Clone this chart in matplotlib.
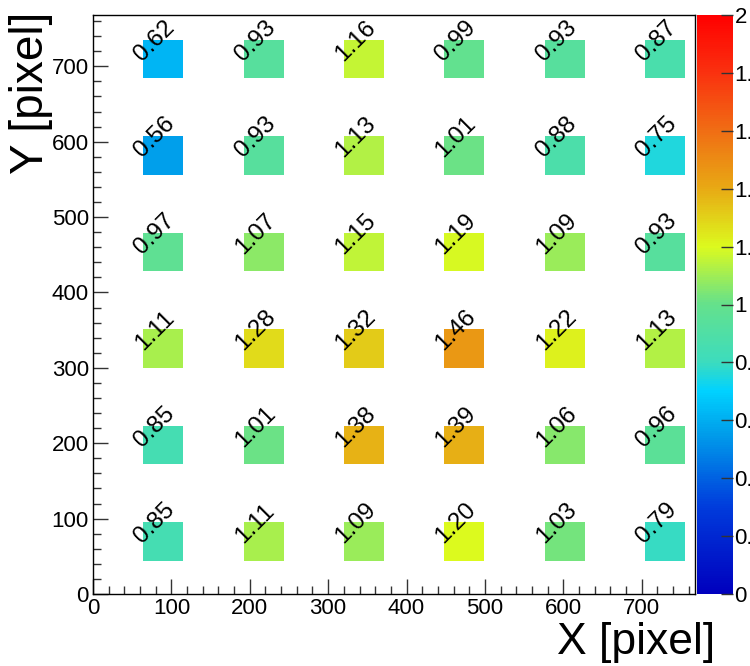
import numpy as np
import matplotlib.pyplot as plt
from matplotlib.colors import LinearSegmentedColormap
from matplotlib.ticker import MultipleLocator, FuncFormatter

plt.rcParams['font.family'] = ['Liberation Sans', 'DejaVu Sans']

# lower-left corner of each pad, in pixels
x_lo = [64, 192, 320, 448, 576, 704]
y_lo = [44, 172, 300, 428, 556, 684]
cell_size = 51.2

# relative gain per pad, rows listed from top (y~700) down to bottom (y~70)
gain_rows = [
    [0.62, 0.93, 1.16, 0.99, 0.93, 0.87],
    [0.56, 0.93, 1.13, 1.01, 0.88, 0.75],
    [0.97, 1.07, 1.15, 1.19, 1.09, 0.93],
    [1.11, 1.28, 1.32, 1.46, 1.22, 1.13],
    [0.85, 1.01, 1.38, 1.39, 1.06, 0.96],
    [0.85, 1.11, 1.09, 1.20, 1.03, 0.79],
]

# rainbow palette similar to ROOT's default one
palette = [
    (0.00, (0, 0, 190)),
    (0.15, (0, 60, 220)),
    (0.28, (0, 160, 235)),
    (0.35, (0, 210, 255)),
    (0.40, (60, 220, 190)),
    (0.50, (100, 225, 140)),
    (0.60, (220, 250, 30)),
    (0.70, (232, 170, 20)),
    (0.80, (240, 110, 20)),
    (0.90, (250, 50, 15)),
    (1.00, (255, 0, 0)),
]
cmap = LinearSegmentedColormap.from_list(
    'rainbow_root', [(v, tuple(c / 255 for c in rgb)) for v, rgb in palette])

vals = np.array(gain_rows)[::-1]

x_edges = np.sort(np.concatenate([x_lo, np.array(x_lo) + cell_size]))
y_edges = np.sort(np.concatenate([y_lo, np.array(y_lo) + cell_size]))
grid = np.ma.masked_all((len(y_edges) - 1, len(x_edges) - 1))
grid[::2, ::2] = vals

fig = plt.figure(figsize=(7.5, 6.66), dpi=100)
ax = fig.add_axes([93 / 750, 72 / 666, 602 / 750, 579 / 666])
mesh = ax.pcolormesh(x_edges, y_edges, grid, cmap=cmap, vmin=0, vmax=2)

for j, y0 in enumerate(y_lo):
    for i, x0 in enumerate(x_lo):
        ax.annotate(f"{vals[j, i]:.2f}", (x0 + cell_size / 2, y0 + cell_size / 2),
                    xytext=(-6, 13), textcoords='offset points',
                    rotation=45, rotation_mode='anchor', ha='center', va='center',
                    fontsize=17.5, color='black')

ax.set_xlim(0, 768)
ax.set_ylim(0, 768)
ax.xaxis.set_major_locator(MultipleLocator(100))
ax.xaxis.set_minor_locator(MultipleLocator(20))
ax.yaxis.set_major_locator(MultipleLocator(100))
ax.yaxis.set_minor_locator(MultipleLocator(20))
ax.tick_params(which='both', direction='in', top=False, right=False,
               labelsize=16, width=1, color='#333333')
ax.tick_params(which='major', length=11)
ax.tick_params(which='minor', length=5.5)
ax.tick_params(axis='x', pad=3)
ax.tick_params(axis='y', pad=3)
for sp in ax.spines.values():
    sp.set_linewidth(1)

fig.text(715 / 750, 12 / 666, "X [pixel]", ha='right', va='baseline', fontsize=32)
fig.text(53 / 750, 1 - 12 / 666, "Y [pixel]", ha='right', va='top',
         rotation=90, fontsize=33)

cax = fig.add_axes([697 / 750, 72 / 666, 36 / 750, 579 / 666])
cb = fig.colorbar(mesh, cax=cax)
cb.outline.set_visible(False)
cb.set_ticks(np.arange(0, 2.01, 0.2))
cb.ax.yaxis.set_major_formatter(FuncFormatter(lambda v, p: f"{v:g}"))
cax.tick_params(direction='in', length=8.6, labelsize=16, pad=1, width=1,
                color='#333333')

fig.savefig('out.png', dpi=100)
